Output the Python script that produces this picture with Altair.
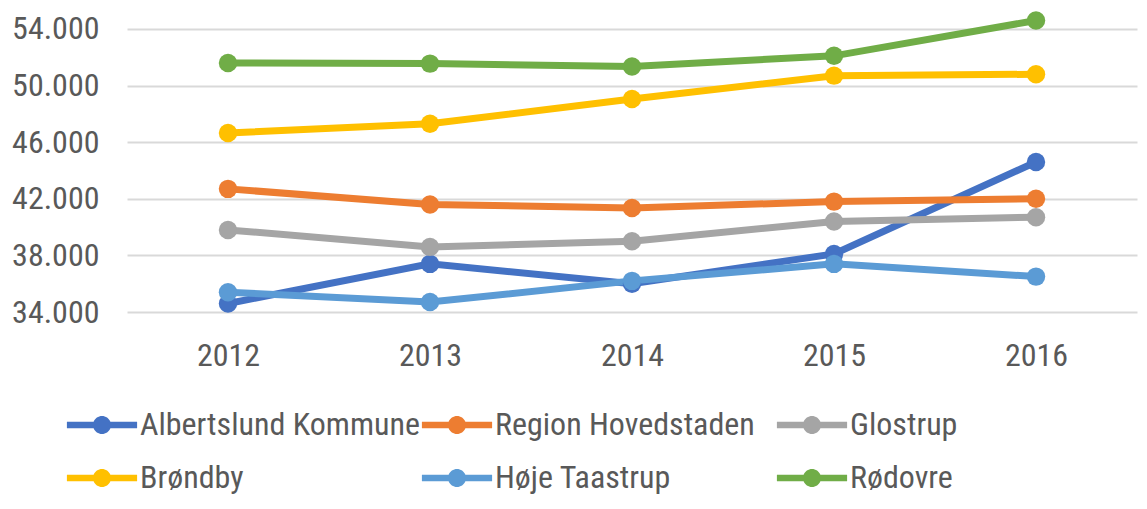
import altair as alt
import pandas as pd

years = ["2012", "2013", "2014", "2015", "2016"]
series = ["Albertslund Kommune", "Region Hovedstaden", "Glostrup",
          "Brøndby", "Høje Taastrup", "Rødovre"]
albertslund = [34600, 37400, 36000, 38100, 44600]
region = [42700, 41600, 41350, 41800, 42000]
glostrup = [39800, 38600, 39000, 40400, 40700]
brondby = [46650, 47300, 49050, 50700, 50800]
hoje = [35400, 34700, 36200, 37400, 36500]
rodovre = [51600, 51550, 51350, 52100, 54600]
colors = ["#4472C4", "#ED7D31", "#A5A5A5", "#FFC000", "#5B9BD5", "#70AD47"]
y_ticks = [34000, 38000, 42000, 46000, 50000, 54000]

rows = []
for name, vals in zip(series, [albertslund, region, glostrup, brondby, hoje, rodovre]):
    for yr, v in zip(years, vals):
        rows.append({"year": yr, "value": v, "series": name, "order": series.index(name)})
df = pd.DataFrame(rows)

FONT = "Liberation Sans Narrow, Roboto Condensed, DejaVu Sans Condensed, sans-serif"
LBL = "#595959"

k = 0.36
c = (1 - k * k) ** 0.5
sym = (f"M-3.9,{-k} L{-c:.3f},{-k} A1,1 0 0,1 {c:.3f},{-k} L3.9,{-k} "
       f"L3.9,{k} L{c:.3f},{k} A1,1 0 0,1 {-c:.3f},{k} L-3.9,{k} Z")

color = alt.Color(
    "series:N",
    scale=alt.Scale(domain=series, range=colors),
    legend=alt.Legend(
        title=None, orient="none", legendX=-41, legendY=401, direction="horizontal",
        columns=3, gridAlign="all", columnPadding=1, rowPadding=21,
        symbolType=sym, symbolSize=324, symbolStrokeWidth=0,
        labelFont=FONT, labelFontSize=32, labelColor=LBL, labelLimit=0,
        labelOffset=22,
    ),
)

x = alt.X("year:O", scale=alt.Scale(domain=years, padding=0.5),
          axis=alt.Axis(title=None, labelAngle=0, ticks=False, domain=False,
                        labelFont=FONT, labelFontSize=32, labelColor=LBL,
                        labelPadding=28, grid=False))
y = alt.Y("value:Q", scale=alt.Scale(domain=[34000, 55480], nice=False, zero=False),
          axis=alt.Axis(title=None, values=y_ticks, ticks=False, domain=False,
                        labelFont=FONT, labelFontSize=32, labelColor=LBL,
                        labelPadding=28, gridColor="#D9D9D9", gridWidth=2,
                        labelExpr="replace(format(datum.value, ',d'), ',', '.')"))

base = alt.Chart(df)
lines = base.mark_line(strokeWidth=7).encode(
    x=x, y=y, color=color, order=alt.Order("order:Q"), detail="series:N")
points = base.mark_circle(size=340, opacity=1).encode(
    x=x, y=y, color=color)

chart = alt.layer(lines, points).properties(
    width=1010, height=304,
    padding={"left": 119, "top": 0, "right": 2, "bottom": 189},
    autosize=alt.AutoSizeParams(type="none"),
).configure_view(stroke=None)

chart.save("out.html", embed_options={"renderer": "svg", "actions": False})
